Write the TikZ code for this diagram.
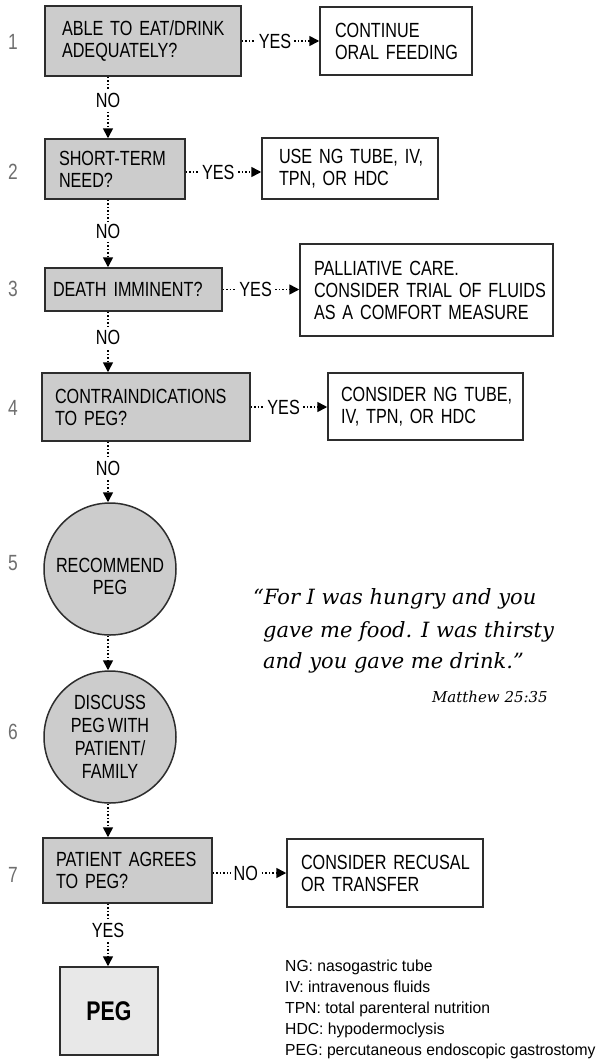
\documentclass[tikz,border=0pt]{standalone}
\usepackage{fontspec}
\setmainfont[FakeStretch=0.79,WordSpace=0.6]{Liberation Sans}
\newfontfamily\legfont[FakeStretch=0.98]{Liberation Sans}
\newfontfamily\quotefont{DejaVu Serif}
\usetikzlibrary{arrows.meta}
\definecolor{boxgray}{RGB}{204,204,204}
\definecolor{peggray}{RGB}{232,232,232}
\definecolor{numgray}{RGB}{110,110,110}
\definecolor{edgegray}{RGB}{45,45,45}
\newcommand\bx{\fontsize{20.5}{22}\selectfont}
\newcommand\bline[1]{\mbox{#1}}
\hbadness=10000 \hfuzz=100pt
\begin{document}
\begin{tikzpicture}[x=1pt,y=-1pt,
  qbox/.style={draw=edgegray, line width=1.5pt, fill=boxgray, inner ysep=0pt, align=left, font=\bx},
  abox/.style={qbox, fill=white},
  qcirc/.style={circle, draw=edgegray, line width=1.5pt, fill=boxgray, minimum size=132pt, inner sep=0pt, align=center, font=\bx},
  arr/.style={line width=1.6pt, dash pattern=on 1.6pt off 1.9pt, -{Triangle[length=10pt,width=10pt]}},
  lab/.style={fill=white, inner sep=2.5pt, font=\bx},
  num/.style={text=numgray, font=\fontsize{22}{24}\selectfont}
]
\useasboundingbox (0,0) rectangle (601,1063);
\coordinate (col) at (108,0);

% step 1
\node[qbox, minimum width=196pt, minimum height=70pt, text width=162pt, inner xsep=17pt] (b1) at (143,41) {\bline{ABLE TO EAT/DRINK}\\\bline{ADEQUATELY?}};
\node[abox, minimum width=152pt, minimum height=68pt, text width=122pt, inner xsep=15pt] (a1) at (396,41) {\bline{CONTINUE}\\\bline{ORAL FEEDING}};
% step 2
\node[qbox, minimum width=140pt, minimum height=60pt, text width=112pt, inner xsep=14pt] (b2) at (115,169) {\bline{SHORT-TERM}\\\bline{NEED?}};
\node[abox, minimum width=176pt, minimum height=61pt, text width=142pt, inner xsep=17pt] (a2) at (350,168.5) {\bline{USE NG TUBE, IV,}\\\bline{TPN, OR HDC}};
% step 3
\node[qbox, minimum width=177pt, minimum height=43pt, text width=161pt, inner xsep=8pt] (b3) at (133.5,289.5) {\bline{DEATH IMMINENT?}};
\node[abox, minimum width=253pt, minimum height=92pt, text width=225pt, inner xsep=14pt] (a3) at (426.5,290) {\bline{PALLIATIVE CARE.}\\\bline{CONSIDER TRIAL OF FLUIDS}\\\bline{AS A COMFORT MEASURE}};
% step 4
\node[qbox, minimum width=208pt, minimum height=68pt, text width=182pt, inner xsep=13pt] (b4) at (146,407) {\bline{CONTRAINDICATIONS}\\\bline{TO PEG?}};
\node[abox, minimum width=195pt, minimum height=67pt, text width=169pt, inner xsep=13pt] (a4) at (425.5,406.5) {\bline{CONSIDER NG TUBE,}\\\bline{IV, TPN, OR HDC}};
% step 5, 6
\node[qcirc] (c5) at (110,569) {};
\node[font=\bx, align=center] (t5) at (110,576) {RECOMMEND\\PEG};
\node[qcirc] (c6) at (110,737) {};
\node[font=\fontsize{20.5}{23}\selectfont, align=center] (t6) at (110,737) {DISCUSS\\PEG WITH\\PATIENT/\\FAMILY};
% step 7
\node[qbox, minimum width=169pt, minimum height=65pt, text width=143pt, inner xsep=13pt] (b7) at (127.5,870.5) {\bline{PATIENT AGREES}\\\bline{TO PEG?}};
\node[abox, minimum width=196pt, minimum height=68pt, text width=168pt, inner xsep=14pt] (a7) at (385,873) {\bline{CONSIDER RECUSAL}\\\bline{OR TRANSFER}};
% PEG
\node[qbox, fill=peggray, minimum width=98pt, minimum height=88pt, align=center, font=\fontsize{27}{30}\selectfont\bfseries] (peg) at (109,1011) {PEG};

% numbers
\node[num] (n1) at (13,42) {1};
\node[num] (n2) at (13,172) {2};
\node[num] (n3) at (13,289) {3};
\node[num] (n4) at (13,408) {4};
\node[num] (n5) at (13,563) {5};
\node[num] (n6) at (13,732) {6};
\node[num] (n7) at (13,875) {7};

% vertical connectors
\draw[arr] (b1.south -| col) -- node[lab, pos=0.38]{NO} (b2.north -| col);
\draw[arr] (b2.south -| col) -- node[lab, pos=0.47]{NO} (b3.north -| col);
\draw[arr] (b3.south -| col) -- node[lab, pos=0.43]{NO} (b4.north -| col);
\draw[arr] (b4.south -| col) -- node[lab, pos=0.44]{NO} (c5.north -| col);
\draw[arr] (c5.south -| col) -- (c6.north -| col);
\draw[arr] (c6.south -| col) -- (b7.north -| col);
\draw[arr] (b7.south -| col) -- node[lab, pos=0.42]{YES} (peg.north -| col);

% horizontal connectors
\coordinate (e2) at ([yshift=-3pt]b2.east);
\coordinate (e7) at ([yshift=-2.5pt]b7.east);
\draw[arr] (b1.east) -- node[lab, pos=0.43]{YES} (a1.west |- b1.east);
\draw[arr] (e2) -- node[lab, pos=0.43]{YES} (a2.west |- e2);
\draw[arr] (b3.east) -- node[lab, pos=0.43]{YES} (a3.west |- b3.east);
\draw[arr] (b4.east) -- node[lab, pos=0.43]{YES} (a4.west |- b4.east);
\draw[arr] (e7) -- node[lab, pos=0.45]{NO} (a7.west |- e7);

% quote
\node[anchor=base west, inner sep=0pt, font=\quotefont\itshape\fontsize{21}{32}\selectfont] (q1) at (253,604) {“For I was hungry and you};
\node[anchor=base west, inner sep=0pt, font=\quotefont\itshape\fontsize{21}{32}\selectfont] (q2) at (263,637) {gave me food. I was thirsty};
\node[anchor=base west, inner sep=0pt, font=\quotefont\itshape\fontsize{21}{32}\selectfont] (q3) at (263,668) {and you gave me drink.”};
\node[anchor=base east, inner sep=0pt, font=\quotefont\itshape\fontsize{15}{18}\selectfont] (qm) at (548,702) {Matthew 25:35};

% legend
\node[anchor=base west, align=left, inner sep=0pt, font=\legfont\fontsize{16}{21}\selectfont] (leg) at (285,1055) {NG: nasogastric tube\\IV: intravenous fluids\\TPN: total parenteral nutrition\\HDC: hypodermoclysis\\PEG: percutaneous endoscopic gastrostomy};
\end{tikzpicture}
\end{document}
